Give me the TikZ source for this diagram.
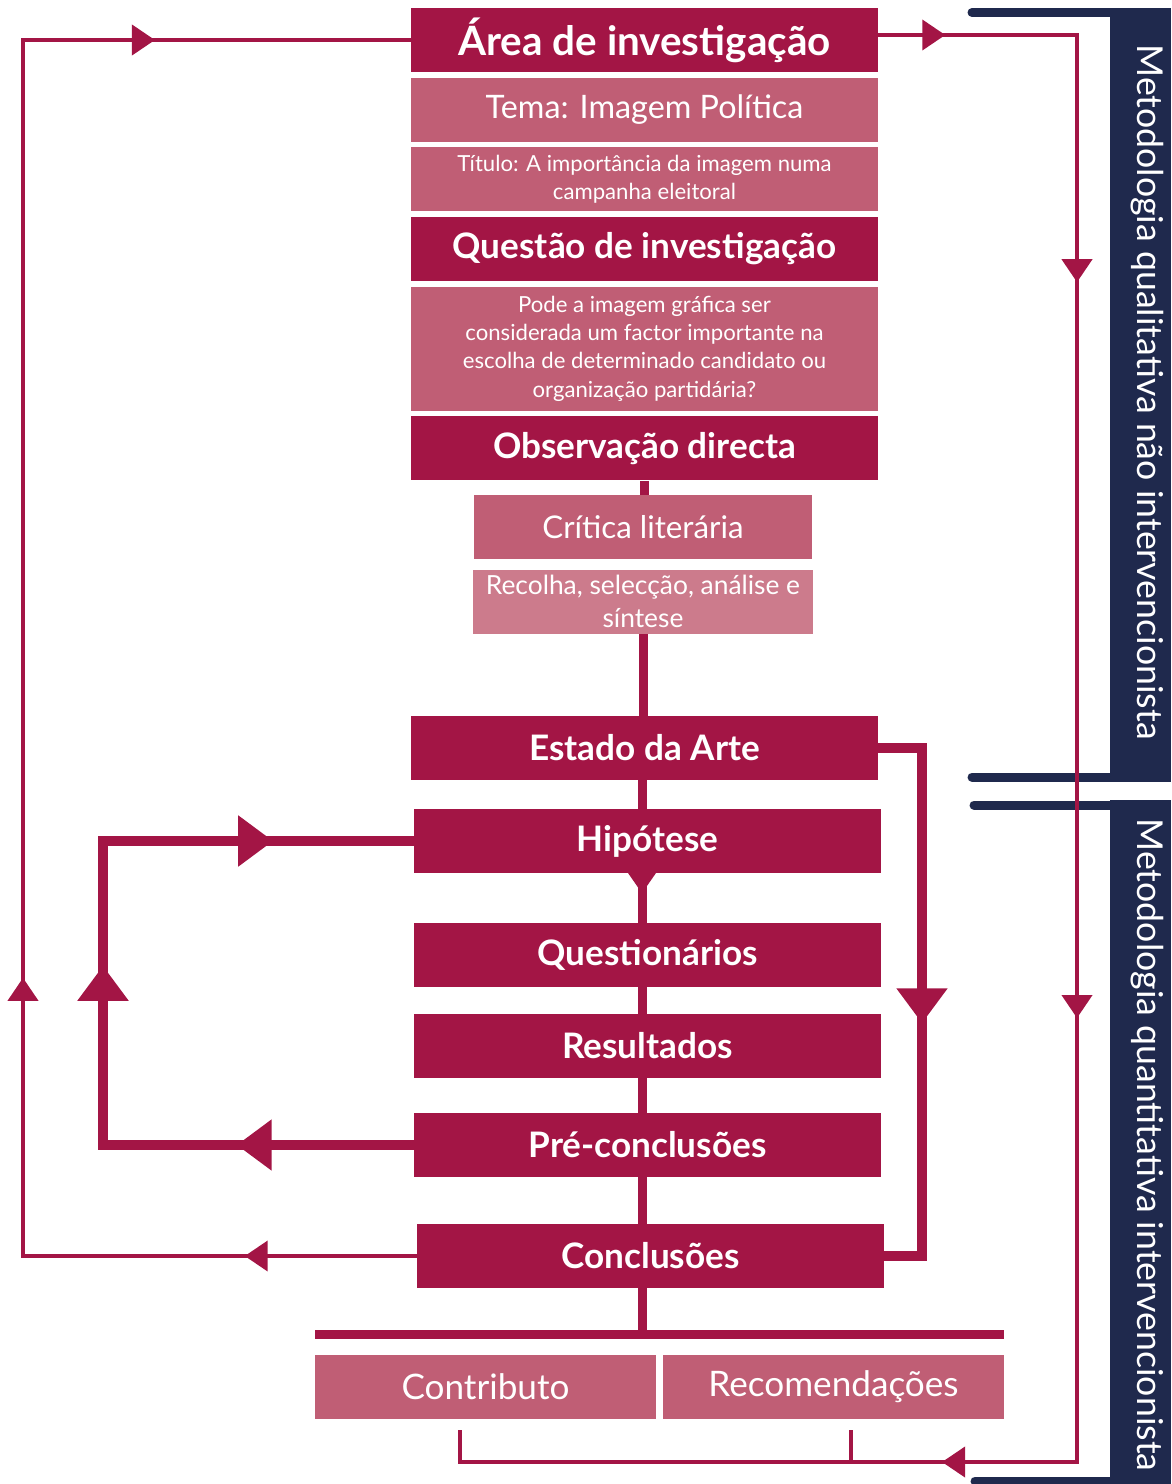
\documentclass[tikz,border=0pt]{standalone}
\usepackage{fontspec}
\setmainfont{Lato}
\usetikzlibrary{arrows.meta, positioning, decorations.markings}

\definecolor{crimson}{HTML}{A31545}
\definecolor{rose}{HTML}{C05E75}
\definecolor{palerose}{HTML}{CC7B8C}
\definecolor{navy}{HTML}{1F294D}

\begin{document}
\begin{tikzpicture}[
    x=0.02cm, y=-0.02cm,
    node distance=0.1cm,
    box/.style={rectangle, minimum width=9.34cm, minimum height=1.28cm, inner sep=0pt, align=center, text=white},
    head/.style={box, fill=crimson, font=\bfseries\fontsize{20}{24}\selectfont},
    sub/.style={box, fill=rose, font=\fontsize{12.6}{16}\selectfont},
    sidebar/.style={fill=navy, minimum width=1.22cm, inner sep=0pt},
    sidetext/.style={rotate=-90, text=white, font=\fontsize{20.3}{24}\selectfont},
    bracket/.style={draw=navy, line width=0.18cm, line cap=round},
    spine/.style={draw=crimson, line width=0.18cm},
    loop/.style={draw=crimson, line width=0.2cm},
    wire/.style={draw=crimson, line width=0.08cm},
    smalltip/.style={postaction={decorate, decoration={markings, mark=at position #1 with {\arrow{Triangle[length=0.46cm, width=0.6cm]}}}}},
    bigtip/.style={postaction={decorate, decoration={markings, mark=at position #1 with {\arrow{Triangle[length=0.7cm, width=0.98cm]}}}}}
]
\useasboundingbox (0,0) rectangle (1171,1484);

\node[head, font=\bfseries\fontsize{23}{27}\selectfont] (area) at (644.5,40) {Área de investigação};
\node[sub, font=\fontsize{18.4}{22}\selectfont, below=of area] (tema) {Tema: Imagem Política};
\node[sub, below=of tema] (titulo) {Título: A importância da imagem numa\\campanha eleitoral};
\node[head, below=of titulo] (questao) {Questão de investigação};
\node[sub, minimum height=2.48cm, below=of questao] (pode) {Pode a imagem gráfica ser\\considerada um factor importante na\\escolha de determinado candidato ou\\organização partidária?};
\node[head, below=of pode] (obs) {Observação directa};

\node[sub, minimum width=6.76cm, font=\fontsize{17.8}{21}\selectfont] (critica) at (643,527) {Crítica literária};
\node[sub, fill=palerose, minimum width=6.82cm, font=\fontsize{15}{19}\selectfont, below=0.2cm of critica] (recolha) {Recolha, selecção, análise e\\síntese};

\node[head] (estado) at (644.5,748) {Estado da Arte};
\node[head] (hipotese) at (647.5,841) {Hipótese};
\node[head] (quest) at (647.5,955) {Questionários};
\node[head] (result) at (647.5,1046) {Resultados};
\node[head] (pre) at (647.5,1145) {Pré-conclusões};
\node[head] (concl) at (650.5,1256) {Conclusões};

\node[fill=crimson, minimum width=13.78cm, minimum height=0.18cm, inner sep=0pt] (bar) at (659.5,1334.5) {};
\node[sub, minimum width=6.82cm, font=\fontsize{20}{24}\selectfont] (contrib) at (485.5,1387) {Contributo};
\node[sub, minimum width=6.82cm, font=\fontsize{20}{24}\selectfont] (recom) at (833.5,1387) {Recomendações};

\node[sidebar, minimum height=15.48cm] (qualbar) at (1140.5,395) {};
\node[sidetext] (qualtext) at (1147,392) {Metodologia qualitativa não intervencionista};
\node[sidebar, minimum height=13.68cm] (quantbar) at (1140.5,1142) {};
\node[sidetext] (quanttext) at (1147,1145) {Metodologia quantitativa intervencionista};

\coordinate (axis) at (642,0);
\coordinate (lcorner) at (23,40);
\coordinate (qcorner) at (1077,1462);
\coordinate (ctail) at (460,1430);
\coordinate (rtail) at (851,1430);
\coordinate (rcorner) at (922,1000);
\coordinate (hcorner) at (103,1000);
\coordinate (qtop) at (972,12.5);
\coordinate (qbot) at (972,777);
\coordinate (ntop) at (974,805);
\coordinate (nbot) at (975,1481);

\draw[bracket] (qtop) -- (qtop -| qualbar.west);
\draw[bracket] (qbot) -- (qbot -| qualbar.west);
\draw[bracket] (ntop) -- (ntop -| quantbar.west);
\draw[bracket] (nbot) -- (nbot -| quantbar.west);

\draw[spine] (obs.south) -- (obs.south |- critica.north);
\draw[spine] (recolha.south) -- (recolha.south |- estado.north);
\draw[spine] (estado.south -| axis) -- (hipotese.north -| axis);
\draw[spine, smalltip=0.4cm] (hipotese.south -| axis) -- (quest.north -| axis);
\draw[spine] (quest.south -| axis) -- (result.north -| axis);
\draw[spine] (result.south -| axis) -- (pre.north -| axis);
\draw[spine] (pre.south -| axis) -- (concl.north -| axis);
\draw[spine] (concl.south -| axis) -- (bar.north -| axis);

\draw[wire, smalltip=3.44cm, smalltip=13.44cm, smalltip=34.84cm] (concl.west) -| (lcorner) -- (area.west);
\draw[wire, smalltip=1.34cm, smalltip=8.92cm, smalltip=23.64cm, smalltip=35.22cm] ([yshift=0.1cm]area.east) -| (qcorner) -| (ctail);
\draw[wire] (rtail) -- (rtail |- qcorner);

\draw[loop, bigtip=6.38cm] (estado.east) -| (rcorner) |- (concl.east);
\draw[loop, bigtip=3.54cm, bigtip=9.8cm, bigtip=15.7cm] (pre.west) -| (hcorner) |- (hipotese.west);

\end{tikzpicture}
\end{document}
